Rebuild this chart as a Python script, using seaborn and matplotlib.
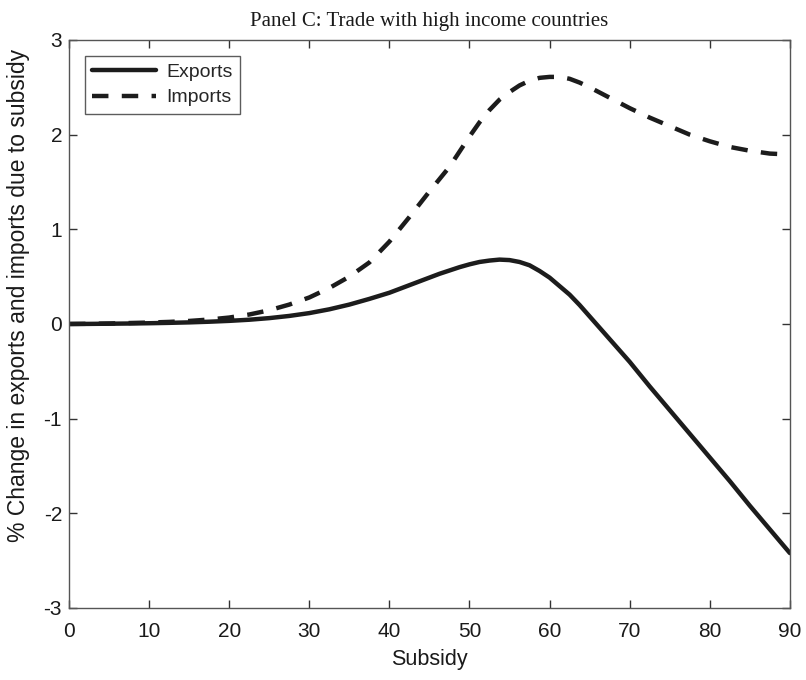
import pandas as pd
import seaborn as sns
from matplotlib import pyplot as plt

# values (finer steps around the peaks)
subsidy = [0, 2.5, 5, 7.5, 10, 12.5, 15, 17.5, 20, 22.5, 25, 27.5, 30, 32.5, 35, 37.5,
           40, 42.5, 45, 46.25, 47.5, 48.75, 50, 51.25, 52.5, 53.75, 55, 56.25, 57.5,
           58.75, 60, 61.25, 62.5, 63.75, 65, 67.5, 70, 72.5, 75, 77.5, 80, 82.5, 85,
           87.5, 90]
exports = [0.000, 0.001, 0.003, 0.005, 0.008, 0.012, 0.017, 0.024, 0.033, 0.045, 0.062,
           0.085, 0.115, 0.155, 0.205, 0.265, 0.33, 0.41, 0.49, 0.53, 0.565, 0.60, 0.63,
           0.655, 0.67, 0.68, 0.675, 0.655, 0.62, 0.56, 0.49, 0.40, 0.31, 0.20, 0.08,
           -0.16, -0.40, -0.66, -0.91, -1.16, -1.41, -1.66, -1.92, -2.17, -2.42]
imports = [0.000, 0.002, 0.005, 0.010, 0.015, 0.022, 0.032, 0.047, 0.068, 0.10, 0.145,
           0.205, 0.28, 0.38, 0.50, 0.65, 0.87, 1.13, 1.40, 1.53, 1.66, 1.82, 1.98, 2.13,
           2.26, 2.37, 2.45, 2.52, 2.57, 2.60, 2.61, 2.61, 2.59, 2.55, 2.50, 2.39, 2.28,
           2.18, 2.09, 2.00, 1.93, 1.87, 1.83, 1.80, 1.79]
series_names = ["Exports", "Imports"]

df = pd.concat([
    pd.DataFrame({"Subsidy": subsidy, "Change": exports, "Series": series_names[0]}),
    pd.DataFrame({"Subsidy": subsidy, "Change": imports, "Series": series_names[1]}),
])

sns.set_style("ticks")
plt.rcParams['font.family'] = ['Liberation Sans', 'DejaVu Sans']

fig = plt.figure(figsize=(8.06, 6.8), dpi=100)
ax = fig.add_axes([0.0856, 0.1059, 0.8944, 0.8353])

line_col = "#1c1c1c"
sns.lineplot(data=df, x="Subsidy", y="Change", style="Series",
             dashes={"Exports": "", "Imports": (3.7, 3.0)},
             color=line_col, linewidth=3.2, ax=ax, legend=False)

ax.set_xlim(0, 90)
ax.set_ylim(-3, 3)
ax.set_xticks(range(0, 91, 10))
ax.set_yticks(range(-3, 4))
ax.set_yticklabels([str(v) for v in range(-3, 4)])
ax.tick_params(direction="in", length=6, width=1, colors="#333333",
               top=True, right=True, labelsize=15, labelcolor="#1a1a1a")
ax.tick_params(axis="x", pad=10)
ax.tick_params(axis="y", pad=5)
for side in ax.spines.values():
    side.set_color("#555555")
    side.set_linewidth(1)

ax.set_xlabel("Subsidy", fontsize=15.5, color="#1a1a1a", labelpad=6)
ax.set_ylabel("% Change in exports and imports due to subsidy", fontsize=16.5,
              color="#1a1a1a")
ax.yaxis.set_label_coords(-0.054, 0.55)

ax.set_title("Panel C: Trade with high income countries", fontsize=15,
             family=["Liberation Serif", "DejaVu Serif"], color="#1a1a1a", pad=10)

handles = ax.get_lines()[:2]
leg = ax.legend(handles, series_names, loc="upper left", fontsize=14,
                frameon=True, fancybox=False, edgecolor="#333333",
                handlelength=3.3, borderaxespad=0.8, labelspacing=0.4,
                handletextpad=0.5, borderpad=0.4)
leg.get_frame().set_linewidth(1)

plt.savefig("out.png", dpi=100)
plt.close()
